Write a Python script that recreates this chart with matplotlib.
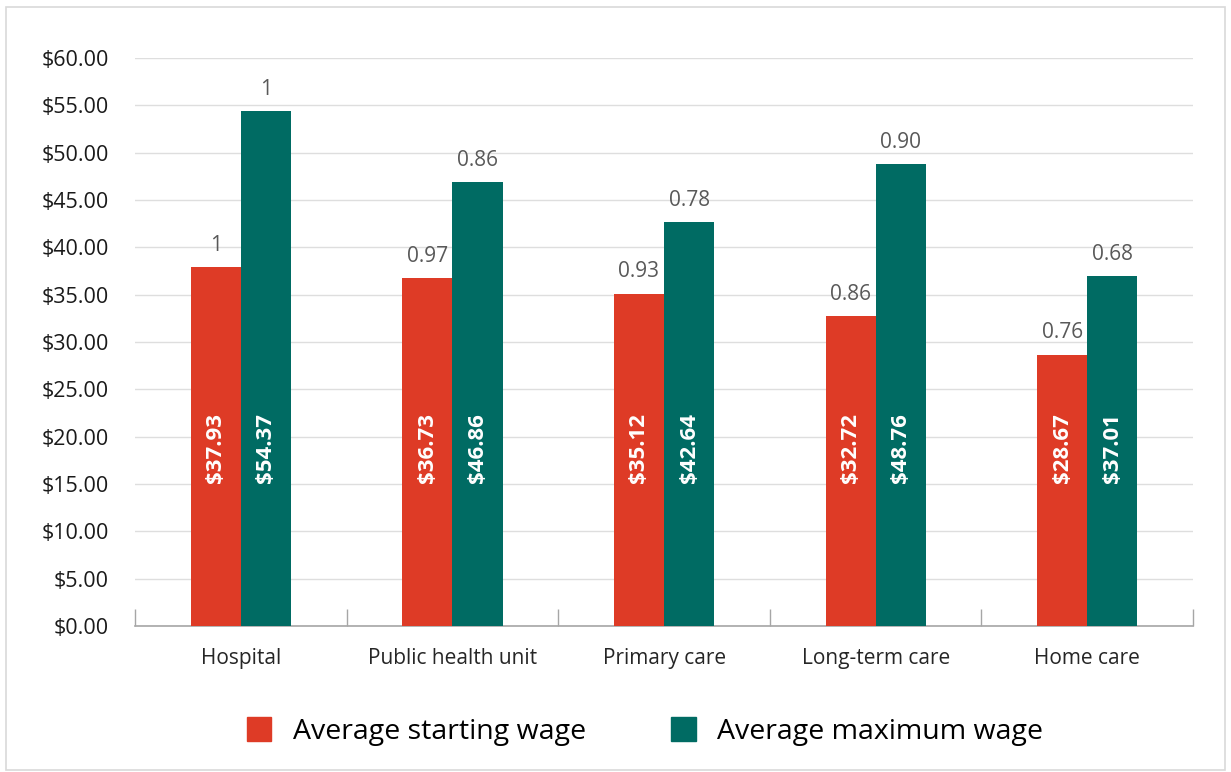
import matplotlib.pyplot as plt
import numpy as np
from matplotlib.patches import Rectangle, Patch

# wage data by sector
sectors = ["Hospital", "Public health unit", "Primary care", "Long-term care", "Home care"]
starting_wage = [37.93, 36.73, 35.12, 32.72, 28.67]
maximum_wage = [54.37, 46.86, 42.64, 48.76, 37.01]
starting_ratio = ["1", "0.97", "0.93", "0.86", "0.76"]
maximum_ratio = ["1", "0.86", "0.78", "0.90", "0.68"]

RED = "#DE3B26"
TEAL = "#006B63"

plt.rcParams['font.family'] = ['Open Sans', 'DejaVu Sans']

fig = plt.figure(figsize=(12.31, 7.72), dpi=100)
ax = fig.add_axes([0.1097, 0.189, 0.8595, 0.736])

# light frame around the whole figure
fig.patches.append(Rectangle((0.005, 0.003), 0.99, 0.988, transform=fig.transFigure,
                             fill=False, edgecolor="#d9d9d9", linewidth=1.2))

x = np.arange(len(sectors))
w = 0.237
b1 = ax.bar(x - w / 2, starting_wage, w, color=RED, zorder=3)
b2 = ax.bar(x + w / 2, maximum_wage, w, color=TEAL, zorder=3)

for bars, vals, ratios in [(b1, starting_wage, starting_ratio), (b2, maximum_wage, maximum_ratio)]:
    for bar, v, r in zip(bars, vals, ratios):
        cx = bar.get_x() + bar.get_width() / 2
        ax.text(cx, 18.8, f"${v:.2f}", rotation=90, ha="center", va="center",
                color="white", fontsize=16, fontweight="bold", zorder=4)
        ax.annotate(r, (cx, v), xytext=(0, 8), textcoords="offset points",
                    ha="center", va="bottom", color="#595959", fontsize=15)

ax.set_xlim(-0.5, 4.5)
ax.set_ylim(0, 60)
ax.set_yticks(np.arange(0, 61, 5))
ax.set_yticklabels([f"${v:.2f}" for v in np.arange(0, 61, 5)], fontsize=15.5, color="#1a1a1a")
ax.yaxis.grid(True, color="#dedede", linewidth=1, zorder=0)
ax.tick_params(axis="y", length=0, pad=19)

# category labels centred, tick marks between categories
ax.set_xticks(x)
ax.set_xticklabels(sectors, fontsize=15, color="#262626")
ax.tick_params(axis="x", length=0, pad=16)
ax.set_xticks(np.arange(-0.5, 5, 1), minor=True)
ax.tick_params(axis="x", which="minor", direction="in", length=12, color="#a6a6a6", width=1)

for s in ["top", "right", "left"]:
    ax.spines[s].set_visible(False)
ax.spines["bottom"].set_color("#a6a6a6")
ax.spines["bottom"].set_linewidth(1.2)

handles = [Patch(color=RED, label="Average starting wage"),
           Patch(color=TEAL, label="Average maximum wage")]
fig.legend(handles=handles, loc="center", bbox_to_anchor=(0.524, 0.053), ncol=2,
           frameon=False, handlelength=0.85, handleheight=0.95,
           handletextpad=0.75, columnspacing=3.0,
           prop={"family": ["Open Sans", "DejaVu Sans"], "size": 20.5})

fig.savefig("out.png", dpi=100)
